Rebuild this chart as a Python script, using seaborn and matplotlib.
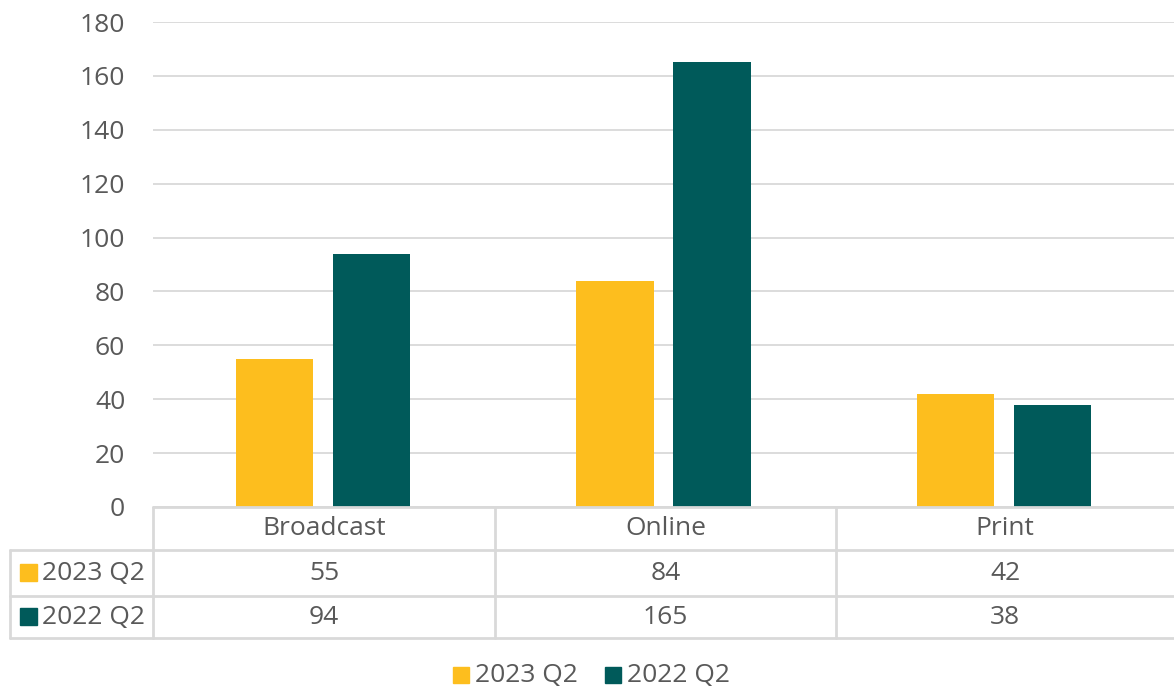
import matplotlib
matplotlib.use("Agg")
import matplotlib.pyplot as plt
import seaborn as sns
import pandas as pd
from matplotlib.lines import Line2D
from matplotlib.patches import Rectangle

categories = ["Broadcast", "Online", "Print"]
series_names = ["2023 Q2", "2022 Q2"]
values_2023 = [55, 84, 42]
values_2022 = [94, 165, 38]
y_ticks = [0, 20, 40, 60, 80, 100, 120, 140, 160, 180]
colors = ["#FDBE1E", "#005A5A"]

df = pd.DataFrame({
    "category": categories * 2,
    "series": [series_names[0]] * 3 + [series_names[1]] * 3,
    "value": values_2023 + values_2022,
})

sns.set_theme(style="white")
plt.rcParams["font.family"] = ["Open Sans", "DejaVu Sans"]
TXT = "#595959"
GRID = "#D9D9D9"
FS = 19

W, H = 1174, 693
fig = plt.figure(figsize=(W / 100, H / 100), dpi=100)

def fx(px):
    return px / W

def fy(py):
    return 1 - py / H

left, right, top, bottom = 153, 1174, 22, 507
ax = fig.add_axes([fx(left), fy(bottom), fx(right - left), (bottom - top) / H])
sns.barplot(data=df, x="category", y="value", hue="series", order=categories,
            hue_order=series_names, palette=colors, width=0.57, gap=0.2,
            saturation=1, ax=ax, legend=False, edgecolor="none")
ax.set_xlim(-0.5, 2.5)
ax.set_ylim(0, 180)
ax.set_yticks(y_ticks)
ax.set_yticklabels([str(t) for t in y_ticks], fontsize=FS, color=TXT)
ax.tick_params(axis="y", length=0, pad=20)
ax.set_xticks([])
ax.set_xlabel("")
ax.set_ylabel("")
ax.grid(axis="y", color=GRID, linewidth=1.3)
ax.set_axisbelow(True)
for s in ax.spines.values():
    s.set_visible(False)

# data table
col_edges = [153, 495, 836, 1174]
row_edges = [507, 550, 596, 638]
lw = 2.0

def hline(y, x0, x1):
    fig.add_artist(Line2D([fx(x0), fx(x1)], [fy(y), fy(y)], color=GRID, lw=lw,
                          transform=fig.transFigure))

def vline(x, y0, y1):
    fig.add_artist(Line2D([fx(x), fx(x)], [fy(y0), fy(y1)], color=GRID, lw=lw,
                          transform=fig.transFigure))

hline(row_edges[0], col_edges[0], col_edges[-1])
for y in row_edges[1:]:
    hline(y, 10, col_edges[-1])
for x in col_edges[:-1]:
    vline(x, row_edges[0], row_edges[-1])
vline(10, row_edges[1], row_edges[-1])

for i, c in enumerate(categories):
    cx = (col_edges[i] + col_edges[i + 1]) / 2
    fig.text(fx(cx), fy((row_edges[0] + row_edges[1]) / 2), c, ha="center",
             va="center", fontsize=FS, color=TXT)
    for r, vals in enumerate([values_2023, values_2022]):
        fig.text(fx(cx), fy((row_edges[r + 1] + row_edges[r + 2]) / 2), str(vals[i]),
                 ha="center", va="center", fontsize=FS, color=TXT)

for r, name in enumerate(series_names):
    cy = (row_edges[r + 1] + row_edges[r + 2]) / 2
    fig.add_artist(Rectangle((fx(20), fy(cy + 8)), fx(17), 17 / H, color=colors[r],
                             transform=fig.transFigure))
    fig.text(fx(42), fy(cy), name, ha="left", va="center", fontsize=FS, color=TXT)

# legend
ly = 675
for name, col, sx in zip(series_names, colors, [453, 605]):
    fig.add_artist(Rectangle((fx(sx), fy(ly + 8)), fx(16), 16 / H, color=col,
                             transform=fig.transFigure))
    fig.text(fx(sx + 22), fy(ly), name, ha="left", va="center", fontsize=FS, color=TXT)

fig.savefig("out.png", dpi=100)
